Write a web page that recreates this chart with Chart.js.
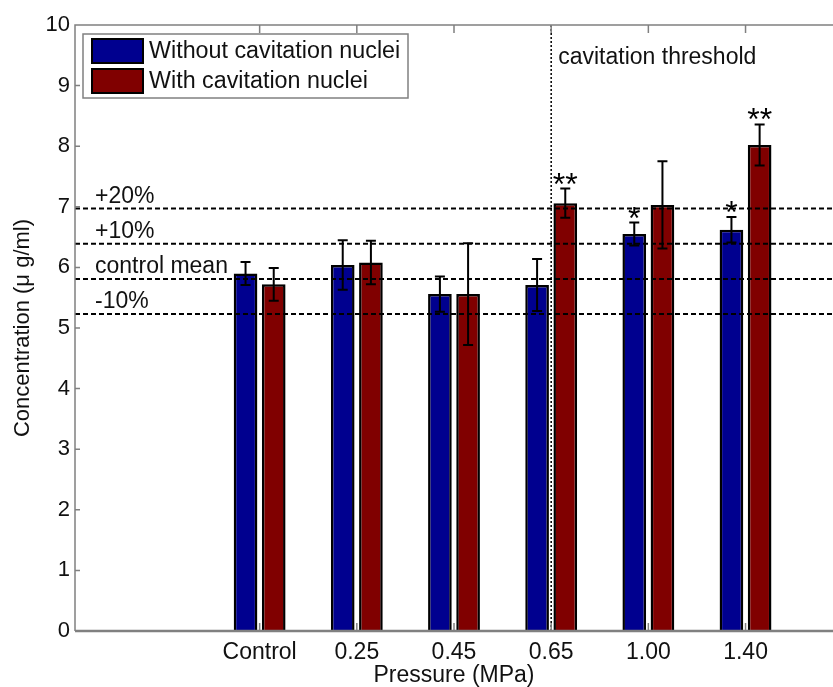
<!DOCTYPE html>
<html>
<head>
<meta charset="utf-8">
<script src="https://cdn.jsdelivr.net/npm/chart.js@4.4.1/dist/chart.umd.min.js"></script>
<style>
  html, body { margin: 0; padding: 0; background: #fff; }
  #wrap { width: 833px; height: 687px; }
</style>
</head>
<body>
<div id="wrap"><canvas id="myChart" width="833" height="687"></canvas></div>
<script>
const categories = ['Control', '0.25', '0.45', '0.65', '1.00', '1.40'];
const withoutNuclei = [5.90, 6.04, 5.56, 5.71, 6.55, 6.62];
const withoutErr = [0.19, 0.41, 0.29, 0.43, 0.19, 0.21];
const withNuclei = [5.72, 6.08, 5.56, 7.06, 7.03, 8.02];
const withErr = [0.27, 0.36, 0.84, 0.24, 0.72, 0.34];
const withoutStars = ['', '', '', '', '*', '*'];
const withStars = ['', '', '', '**', '', '**'];
const refValues = [6.97, 6.39, 5.81, 5.23];
const refLabels = ['+20%', '+10%', 'control mean', '-10%'];
const thresholdCategory = '0.65';
const thresholdLabel = 'cavitation threshold';
const yTicks = [0, 1, 2, 3, 4, 5, 6, 7, 8, 9, 10];

const FONT = '"Liberation Sans", Arial, sans-serif';
const blue = '#00008f';
const red = '#800000';

const toPoints = arr => arr.map((v, i) => ({ x: i + 1, y: v }));

// error bars, asterisks, reference lines and frame drawn on top
const overlay = {
  id: 'overlay',
  afterDatasetsDraw(chart) {
    const ctx = chart.ctx;
    const x = chart.scales.x;
    const y = chart.scales.y;
    const area = chart.chartArea;
    const errs = [withoutErr, withErr];
    const stars = [withoutStars, withStars];

    ctx.save();
    // error bars
    chart.data.datasets.forEach((ds, d) => {
      const meta = chart.getDatasetMeta(d);
      meta.data.forEach((bar, i) => {
        const v = ds.data[i].y;
        const top = y.getPixelForValue(v + errs[d][i]);
        const bot = y.getPixelForValue(v - errs[d][i]);
        ctx.strokeStyle = '#000';
        ctx.lineWidth = 2;
        ctx.beginPath();
        ctx.moveTo(bar.x, top); ctx.lineTo(bar.x, bot);
        ctx.moveTo(bar.x - 5, top); ctx.lineTo(bar.x + 5, top);
        ctx.moveTo(bar.x - 5, bot); ctx.lineTo(bar.x + 5, bot);
        ctx.stroke();
        if (stars[d][i]) {
          ctx.fillStyle = '#000';
          ctx.font = '32px ' + FONT;
          ctx.textAlign = 'center';
          ctx.textBaseline = 'alphabetic';
          ctx.fillText(stars[d][i], bar.x, top + 6);
        }
      });
    });

    // reference lines
    ctx.setLineDash([5, 3]);
    ctx.lineWidth = 2;
    ctx.strokeStyle = '#000';
    refValues.forEach((v, i) => {
      const py = y.getPixelForValue(v);
      ctx.beginPath();
      ctx.moveTo(area.left, py); ctx.lineTo(area.right, py);
      ctx.stroke();
      ctx.fillStyle = '#111';
      ctx.font = '23px ' + FONT;
      ctx.textAlign = 'left';
      ctx.textBaseline = 'alphabetic';
      ctx.fillText(refLabels[i], 95, py - 6);
    });

    // threshold line
    const tx = x.getPixelForValue(categories.indexOf(thresholdCategory) + 1);
    ctx.setLineDash([2, 2]);
    ctx.lineWidth = 1.5;
    ctx.beginPath();
    ctx.moveTo(tx, area.top); ctx.lineTo(tx, area.bottom);
    ctx.stroke();
    ctx.setLineDash([]);
    ctx.fillStyle = '#111';
    ctx.font = '23px ' + FONT;
    ctx.textBaseline = 'middle';
    ctx.fillText(thresholdLabel, tx + 7, area.top + 33);

    // frame and inner ticks
    ctx.strokeStyle = '#808080';
    ctx.lineWidth = 1.5;
    ctx.beginPath();
    ctx.moveTo(area.left, area.bottom); ctx.lineTo(area.left, area.top);
    ctx.lineTo(area.right, area.top);
    yTicks.forEach(t => {
      const py = y.getPixelForValue(t);
      ctx.moveTo(area.left, py); ctx.lineTo(area.left + 5, py);
    });
    categories.forEach((c, i) => {
      const px = x.getPixelForValue(i + 1);
      ctx.moveTo(px, area.top); ctx.lineTo(px, area.top + 8);
      ctx.moveTo(px, area.bottom); ctx.lineTo(px, area.bottom - 8);
    });
    ctx.stroke();
    ctx.lineWidth = 2.5;
    ctx.beginPath();
    ctx.moveTo(area.left, area.bottom); ctx.lineTo(area.right, area.bottom);
    ctx.stroke();

    // legend box
    const lx = 83, ly = 34;
    ctx.fillStyle = '#fff';
    ctx.fillRect(lx, ly, 325, 64);
    ctx.strokeStyle = '#808080';
    ctx.lineWidth = 1.5;
    ctx.strokeRect(lx, ly, 325, 64);
    chart.data.datasets.forEach((ds, d) => {
      const sy = ly + 5 + d * 30;
      ctx.fillStyle = ds.backgroundColor;
      ctx.fillRect(lx + 9, sy, 51, 24);
      ctx.strokeStyle = '#000';
      ctx.lineWidth = 2;
      ctx.strokeRect(lx + 9, sy, 51, 24);
      ctx.fillStyle = '#111';
      ctx.font = '23.3px ' + FONT;
      ctx.textAlign = 'left';
      ctx.textBaseline = 'middle';
      ctx.fillText(ds.label, lx + 66, sy + 13);
    });
    ctx.restore();
  }
};

new Chart(document.getElementById('myChart').getContext('2d'), {
  type: 'bar',
  data: {
    datasets: [{
      label: 'Without cavitation nuclei',
      data: toPoints(withoutNuclei),
      backgroundColor: blue,
      borderColor: '#000',
      borderWidth: 2.5
    }, {
      label: 'With cavitation nuclei',
      data: toPoints(withNuclei),
      backgroundColor: red,
      borderColor: '#000',
      borderWidth: 2.5
    }]
  },
  options: {
    responsive: false,
    animation: false,
    categoryPercentage: 0.58,
    barPercentage: 0.84,
    layout: { padding: { top: 25, right: 0, left: 0, bottom: 0 } },
    plugins: {
      legend: { display: false },
      tooltip: { enabled: false }
    },
    scales: {
      x: {
        type: 'linear',
        min: -0.9,
        max: 6.9,
        offset: false,
        afterBuildTicks: s => { s.ticks = categories.map((c, i) => ({ value: i + 1 })); },
        afterFit: s => { s.height = 56; },
        grid: { display: false, drawTicks: false },
        border: { display: false },
        ticks: {
          autoSkip: false,
          maxRotation: 0,
          padding: 8,
          color: '#111',
          font: { family: FONT, size: 23 },
          callback: v => categories[v - 1]
        },
        title: {
          display: true,
          text: 'Pressure (MPa)',
          color: '#111',
          padding: { top: 0, bottom: -2 },
          font: { family: FONT, size: 23 }
        }
      },
      y: {
        min: 0,
        max: 10,
        afterBuildTicks: s => { s.ticks = yTicks.map(v => ({ value: v })); },
        afterFit: s => { s.width = 75; },
        grid: { display: false, drawTicks: false },
        border: { display: false },
        ticks: {
          padding: 5,
          color: '#111',
          font: { family: FONT, size: 22 }
        },
        title: {
          display: true,
          text: 'Concentration (μ g/ml)',
          color: '#111',
          padding: { top: 10, bottom: 0 },
          font: { family: FONT, size: 22 }
        }
      }
    }
  },
  plugins: [overlay]
});
</script>
</body>
</html>
